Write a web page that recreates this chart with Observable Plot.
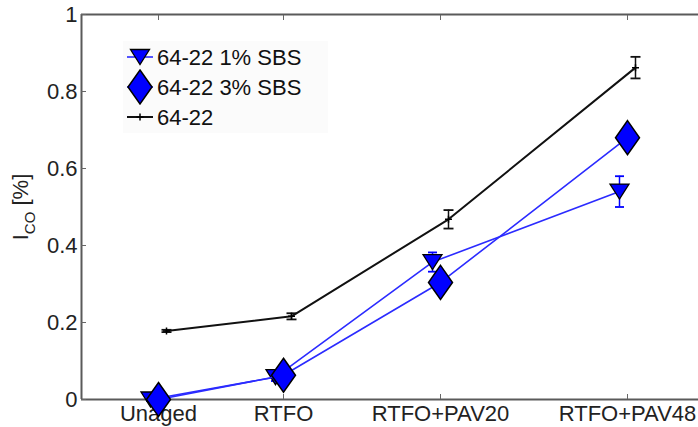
<!DOCTYPE html>
<html>
<head>
<meta charset="utf-8">
<script src="https://cdn.jsdelivr.net/npm/d3@7"></script>
<script src="https://cdn.jsdelivr.net/npm/@observablehq/plot@0.6"></script>
<style>
  html, body { margin: 0; padding: 0; background: #fff; }
  #chart { width: 698px; height: 427px; overflow: hidden; }
</style>
</head>
<body>
<div id="chart"></div>
<script>
// ---- data ----
const categories = ["Unaged", "RTFO", "RTFO+PAV20", "RTFO+PAV48"];
const xPositions = [1, 2, 3.256, 4.752];
const yTicks = [0, 0.2, 0.4, 0.6, 0.8, 1];

const sbs1Values = [0.0, 0.058, 0.357, 0.54];
const sbs1Errors = [0.004, 0.01, 0.025, 0.04];
const sbs3Values = [0.0, 0.063, 0.304, 0.68];
const sbs3Errors = [0.004, 0.01, 0.015, 0.02];
const baseValues = [0.178, 0.216, 0.468, 0.862];
const baseErrors = [0.003, 0.008, 0.024, 0.028];

const seriesNames = ["64-22 1% SBS", "64-22 3% SBS", "64-22"];

const rows = (vals, errs) => vals.map((v, i) => ({x: xPositions[i], y: v, e: errs[i]}));
const sbs1 = rows(sbs1Values, sbs1Errors);
const sbs3 = rows(sbs3Values, sbs3Errors);
const base = rows(baseValues, baseErrors);

// ---- custom symbols ----
const rad = (size) => Math.sqrt(size / Math.PI);
const triDown = {draw(ctx, size) { const r = rad(size), h = r * 0.79; ctx.moveTo(-r, -h); ctx.lineTo(r, -h); ctx.lineTo(0, h); ctx.closePath(); }};
const diamond = {draw(ctx, size) { const r = rad(size), h = r * 1.42; ctx.moveTo(0, -h); ctx.lineTo(r, 0); ctx.lineTo(0, h); ctx.lineTo(-r, 0); ctx.closePath(); }};
const plus = {draw(ctx, size) { const r = rad(size); ctx.moveTo(-r, 0); ctx.lineTo(r, 0); ctx.moveTo(0, -r); ctx.lineTo(0, r); }};
const cap = {draw(ctx, size) { const r = rad(size); ctx.moveTo(-r, 0); ctx.lineTo(r, 0); }};

const blueLine = "#2b2bff";
const blue = "#0000ff";

function errMarks(data, color, dx, capR) {
  return [
    Plot.ruleX(data, {x: "x", y1: d => d.y - d.e, y2: d => d.y + d.e, stroke: color, strokeWidth: 1.5, dx}),
    Plot.dot(data, {x: "x", y: d => d.y + d.e, symbol: cap, r: capR, stroke: color, strokeWidth: 1.8, fill: "none", dx}),
    Plot.dot(data, {x: "x", y: d => d.y - d.e, symbol: cap, r: capR, stroke: color, strokeWidth: 1.8, fill: "none", dx})
  ];
}

const fmt = d => String(d);

const chart = Plot.plot({
  width: 698,
  height: 427,
  marginLeft: 81,
  marginRight: 0,
  marginTop: 14,
  marginBottom: 28,
  style: {fontFamily: "'Liberation Sans', Arial, Helvetica, sans-serif", fontSize: "22px", color: "#222", background: "#fff", overflow: "visible"},
  x: {type: "linear", domain: [0.384, 5.32]},
  y: {domain: [0, 1]},
  marks: [
    // frame
    Plot.ruleY([0, 1], {stroke: "#5a5a5a", strokeWidth: 2}),
    Plot.ruleX([0.384], {stroke: "#5a5a5a", strokeWidth: 2}),
    Plot.axisY({ticks: yTicks, tickFormat: fmt, tickSize: -5, tickPadding: 9, label: null, stroke: "#666"}),
    Plot.axisX({anchor: "bottom", ticks: xPositions, tickFormat: d => categories[xPositions.indexOf(d)], tickSize: -5, tickPadding: 11, label: null, stroke: "#666"}),
    Plot.axisX({anchor: "top", ticks: xPositions, tickFormat: () => "", tickSize: -5, label: null, stroke: "#666"}),
    // 1% SBS
    Plot.line(sbs1, {x: "x", y: "y", stroke: blueLine, strokeWidth: 1.6, dx: -8}),
    ...errMarks(sbs1, blue, -8, 4.5),
    Plot.dot(sbs1, {x: "x", y: "y", symbol: triDown, r: 9.5, fill: blue, stroke: "#000", strokeWidth: 1.3, dx: -8}),
    // 3% SBS
    Plot.line(sbs3, {x: "x", y: "y", stroke: blueLine, strokeWidth: 1.6}),
    ...errMarks(sbs3, blue, 0, 4.5),
    Plot.dot(sbs3, {x: "x", y: "y", symbol: diamond, r: 12, fill: blue, stroke: "#000", strokeWidth: 1.5}),
    // 64-22
    Plot.line(base, {x: "x", y: "y", stroke: "#111", strokeWidth: 2, dx: 8}),
    ...errMarks(base, "#111", 8, 5),
    Plot.dot(base, {x: "x", y: "y", symbol: plus, r: 3.5, stroke: "#000", strokeWidth: 1.5, fill: "none", dx: 8})
  ]
});

document.getElementById("chart").appendChild(chart);

// ---- y label and legend ----
const svg = d3.select(chart);
const ylab = svg.append("text")
  .attr("transform", "translate(28,207) rotate(-90)")
  .attr("text-anchor", "middle")
  .attr("fill", "#222")
  .style("font-size", "22px");
ylab.append("tspan").text("I");
ylab.append("tspan").attr("dy", 7).style("font-size", "15px").text("CO");
ylab.append("tspan").attr("dy", -7).text(" [%]");

const lg = svg.append("g");
lg.append("rect").attr("x", 123).attr("y", 41).attr("width", 205).attr("height", 92).attr("fill", "#fbfbfb");
const legendItems = [
  {name: seriesNames[0], color: blueLine, sym: triDown, r: 9.5, fill: blue, stroke: "#000", sw: 1.3, lw: 1.6},
  {name: seriesNames[1], color: blueLine, sym: diamond, r: 12, fill: blue, stroke: "#000", sw: 1.5, lw: 1.6},
  {name: seriesNames[2], color: "#111", sym: plus, r: 3.5, fill: "none", stroke: "#000", sw: 1.5, lw: 2}
];
legendItems.forEach((it, i) => {
  const y = 57 + i * 30;
  lg.append("line").attr("x1", 127).attr("x2", 153).attr("y1", y).attr("y2", y).attr("stroke", it.color).attr("stroke-width", it.lw);
  lg.append("path").attr("transform", `translate(140,${y})`)
    .attr("d", d3.symbol(it.sym, Math.PI * it.r * it.r)())
    .attr("fill", it.fill).attr("stroke", it.stroke).attr("stroke-width", it.sw);
  lg.append("text").attr("x", 157).attr("y", y).attr("dy", "0.36em").attr("fill", "#111")
    .attr("text-anchor", "start")
    .style("font-size", "22px").text(it.name);
});
</script>
</body>
</html>
